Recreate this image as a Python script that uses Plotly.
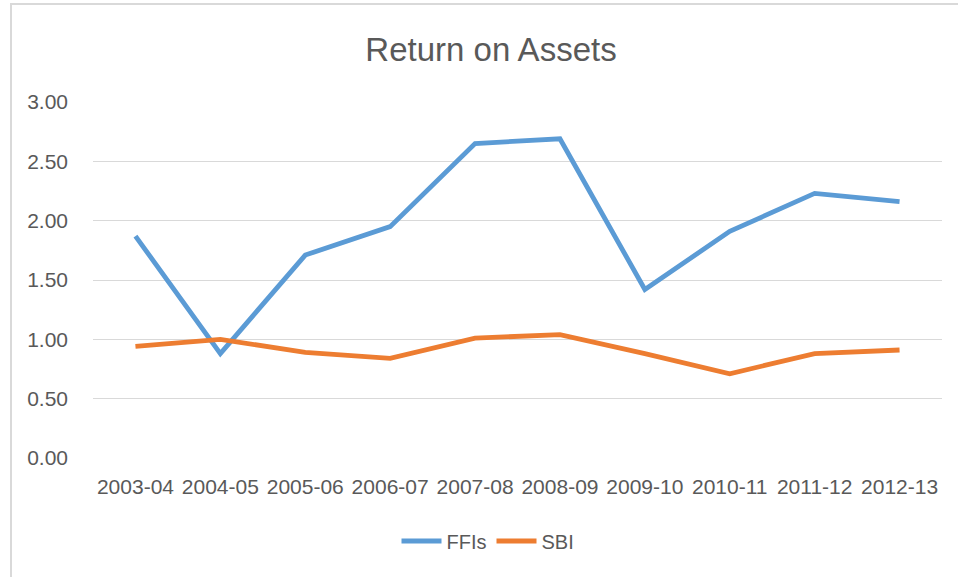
import plotly.graph_objects as go

categories = ["2003-04", "2004-05", "2005-06", "2006-07", "2007-08",
              "2008-09", "2009-10", "2010-11", "2011-12", "2012-13"]
ffis = [1.87, 0.88, 1.71, 1.95, 2.65, 2.69, 1.42, 1.91, 2.23, 2.16]
sbi = [0.94, 1.00, 0.89, 0.84, 1.01, 1.04, 0.88, 0.71, 0.88, 0.91]
y_ticks = [0, 0.5, 1.0, 1.5, 2.0, 2.5, 3.0]
y_tick_labels = ["0.00", "0.50", "1.00", "1.50", "2.00", "2.50", "3.00"]

W, H = 958, 577
ML, MR, MT, MB = 93, 16, 102, 119
pw, ph = W - ML - MR, H - MT - MB

def px_x(x):
    return (x - ML) / pw

def px_y(y):
    return (H - MB - y) / ph

font_fam = "Liberation Sans, Arial, sans-serif"
grey = "#595959"

fig = go.Figure()
fig.add_trace(go.Scatter(x=categories, y=ffis, mode="lines", name="FFIs",
                         line=dict(color="#5B9BD5", width=4.8)))
fig.add_trace(go.Scatter(x=categories, y=sbi, mode="lines", name="SBI",
                         line=dict(color="#ED7D31", width=4.8)))

fig.update_layout(
    width=W, height=H,
    margin=dict(l=ML, r=MR, t=MT, b=MB, autoexpand=False),
    paper_bgcolor="white", plot_bgcolor="white",
    title=dict(text="Return on Assets", x=491 / W, xanchor="center", xref="container",
               y=1 - 49 / H, yanchor="middle", yref="container",
               font=dict(family=font_fam, size=33, color=grey)),
    xaxis=dict(type="category", range=[-0.5, 9.5], showgrid=False, showline=False,
               zeroline=False, ticks="", tickangle=0, automargin=False,
               ticklabelstandoff=14,
               tickfont=dict(family=font_fam, size=21, color=grey)),
    yaxis=dict(range=[0, 3], tickvals=y_ticks, ticktext=y_tick_labels,
               showgrid=True, gridcolor="#D9D9D9", gridwidth=1.3, automargin=False,
               zeroline=False, showline=False, ticks="", ticklabelstandoff=24,
               tickfont=dict(family=font_fam, size=21, color=grey)),
    legend=dict(orientation="h", x=px_x(488), xanchor="center", y=px_y(541), yanchor="middle",
                font=dict(family=font_fam, size=20, color=grey), itemwidth=40,
                bgcolor="rgba(0,0,0,0)"),
    showlegend=True,
    shapes=[dict(type="rect", xref="paper", yref="paper",
                 x0=px_x(11), x1=px_x(W + 5), y0=px_y(H + 5), y1=px_y(4),
                 line=dict(color="#D9D9D9", width=2), layer="below")],
)

fig.write_html(
    "out.html",
    config={"displayModeBar": False},
    post_script="document.body.style.margin='0';document.body.style.overflow='hidden';",
)
